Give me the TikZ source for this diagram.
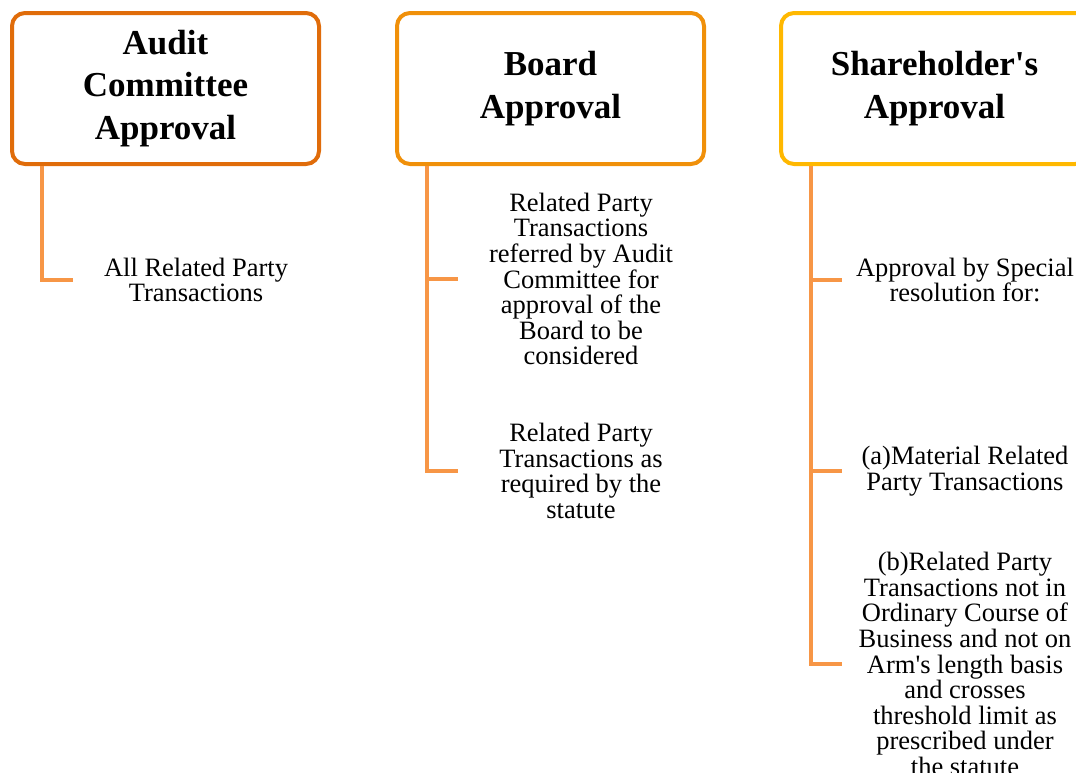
\documentclass[tikz,border=0pt]{standalone}
\usepackage{fontspec}
\setmainfont{Liberation Serif}

\definecolor{auditorange}{HTML}{E06C0A}
\definecolor{boardorange}{HTML}{F0900A}
\definecolor{sharegold}{HTML}{FFB800}
\definecolor{linkorange}{HTML}{F79646}

\tikzset{
  approval/.style={draw, line width=4pt, rounded corners=13pt, fill=white,
    minimum width=307pt, minimum height=151pt, align=center,
    font=\fontsize{35}{42.5}\selectfont\bfseries},
  item/.style={align=center, inner sep=0pt, font=\fontsize{26.5}{25.6}\selectfont},
  link/.style={draw=linkorange, line width=3.5pt}
}

\begin{document}
\begin{tikzpicture}[x=1pt,y=-1pt]

% Page
\useasboundingbox (0,0) rectangle (1076,772);
\clip (0,0) rectangle (1076,772);
\fill[white] (0,0) rectangle (1076,772);

% Approval boxes
\node[approval, draw=auditorange] (audit) at (165.5,88.5) {Audit\\Committee\\Approval};
\node[approval, draw=boardorange] (board) at (550.5,88.5) {Board\\Approval};
\node[approval, draw=sharegold] (share) at (934.5,88.5) {Shareholder\textquotesingle s\\Approval};

% Items
\node[item] (allrpt) at (196,280) {All Related Party\\Transactions};
\node[item] (referred) at (581,279) {Related Party\\Transactions\\referred by Audit\\Committee for\\approval of the\\Board to be\\considered};
\node[item] (statute) at (581,471) {Related Party\\Transactions as\\required by the\\statute};
\node[item] (special) at (965,280) {Approval by Special\\resolution for:};
\node[item] (material) at (965,471) {(a)Material Related\\Party Transactions};
\node[item] (ordinary) at (965,664) {(b)Related Party\\Transactions not in\\Ordinary Course of\\Business and not on\\Arm\textquotesingle s length basis\\and crosses\\threshold limit as\\prescribed under\\the statute};

% Links
\draw[link] ([xshift=32pt]audit.south west) |- ([xshift=-123pt]allrpt.center);
\draw[link] ([xshift=32pt]board.south west) |- ([xshift=-123pt]referred.center);
\draw[link] ([xshift=32pt]board.south west) |- ([xshift=-123pt]statute.center);
\draw[link] ([xshift=32pt]share.south west) |- ([xshift=-123pt]special.center);
\draw[link] ([xshift=32pt]share.south west) |- ([xshift=-123pt]material.center);
\draw[link] ([xshift=32pt]share.south west) |- ([xshift=-123pt]ordinary.center);

\end{tikzpicture}
\end{document}
